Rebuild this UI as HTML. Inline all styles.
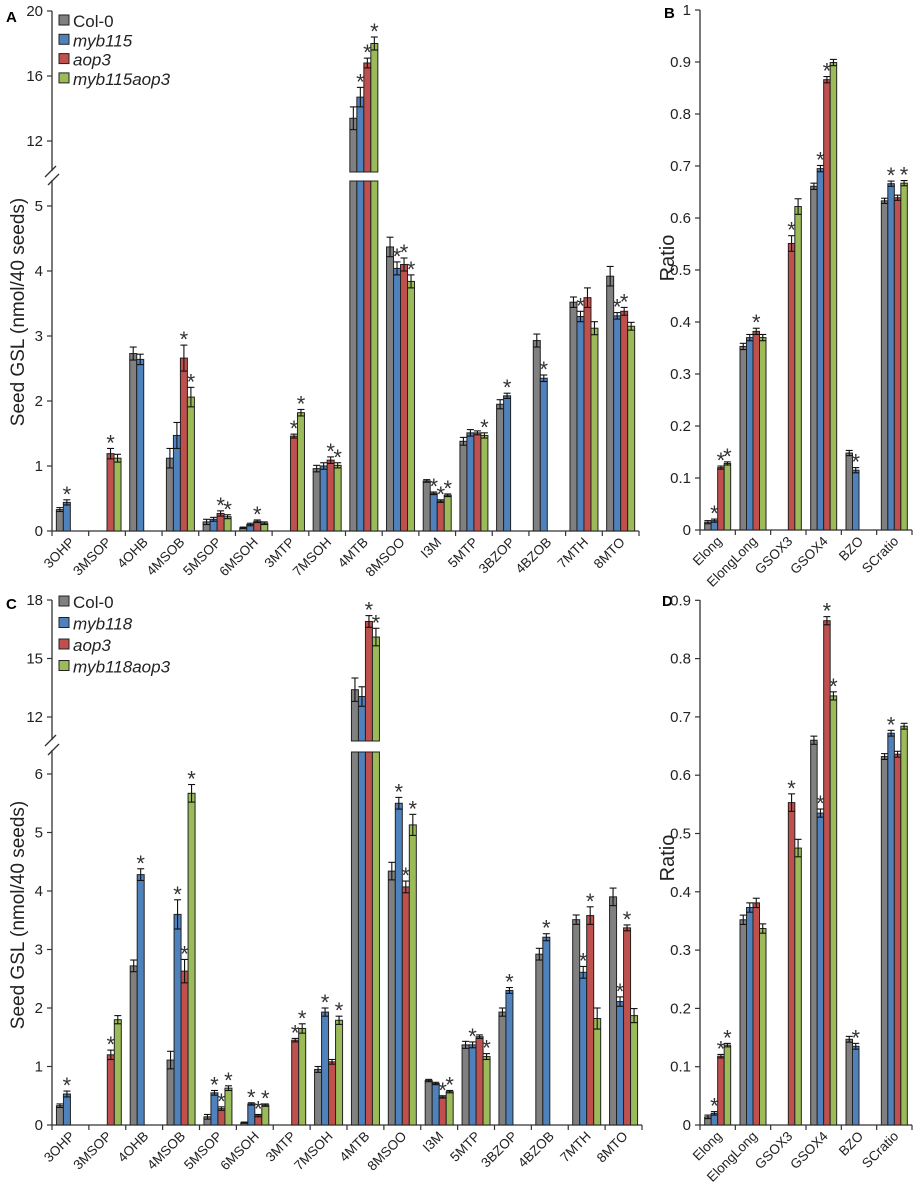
<!DOCTYPE html>
<html><head><meta charset="utf-8"><style>
html,body{margin:0;padding:0;background:#fff;}
svg{display:block;font-family:"Liberation Sans",Arial,sans-serif;}
</style></head>
<body>
<svg id="fig" width="918" height="1190" viewBox="0 0 918 1190" xmlns="http://www.w3.org/2000/svg">
<rect x="0" y="0" width="918" height="1190" fill="#fff"/>
<text x="6" y="22" font-size="15" font-weight="bold">A</text>
<text x="664" y="18" font-size="15" font-weight="bold">B</text>
<text x="6" y="609" font-size="15" font-weight="bold">C</text>
<text x="662" y="606" font-size="15" font-weight="bold">D</text>
<text transform="translate(24,312) rotate(-90)" text-anchor="middle" font-size="19" fill="#222">Seed GSL (nmol/40 seeds)</text>
<text transform="translate(24,915) rotate(-90)" text-anchor="middle" font-size="19" fill="#222">Seed GSL (nmol/40 seeds)</text>
<text transform="translate(674,258) rotate(-90)" text-anchor="middle" font-size="20" fill="#222">Ratio</text>
<text transform="translate(674,858) rotate(-90)" text-anchor="middle" font-size="20" fill="#222">Ratio</text>
</svg>
<script>
// ---------- data ----------
const gslCats = ["3OHP","3MSOP","4OHB","4MSOB","5MSOP","6MSOH","3MTP","7MSOH","4MTB","8MSOO","I3M","5MTP","3BZOP","4BZOB","7MTH","8MTO"];
const ratioCats = ["Elong","ElongLong","GSOX3","GSOX4","BZO","SCratio"];
const seriesColors = ["#808080","#4f81bd","#c0504d","#9bbb59"];
const legendA = ["Col-0","myb115","aop3","myb115aop3"];
const legendC = ["Col-0","myb118","aop3","myb118aop3"];

// Panel A (myb115)
const aCol0 = [0.33,null,2.73,1.12,0.14,0.05,null,0.96,13.4,4.37,0.77,1.38,1.95,2.93,3.52,3.92];
const aMyb  = [0.44,null,2.64,1.47,0.18,0.10,null,1.00,14.7,4.04,0.58,1.51,2.08,2.35,3.30,3.31];
const aAop  = [null,1.19,null,2.66,0.27,0.15,1.46,1.09,16.8,4.10,0.46,1.51,null,null,3.59,3.38];
const aDbl  = [null,1.12,null,2.06,0.22,0.12,1.82,1.01,18.0,3.84,0.55,1.47,null,null,3.12,3.15];
const aCol0Err = [0.03,0,0.1,0.15,0.04,0.01,0,0.05,0.7,0.15,0.02,0.06,0.07,0.1,0.08,0.15];
const aMybErr  = [0.04,0,0.08,0.2,0.03,0.02,0,0.05,0.6,0.1,0.02,0.05,0.04,0.05,0.08,0.05];
const aAopErr  = [0,0.08,0,0.2,0.04,0.02,0.03,0.05,0.3,0.1,0.02,0.03,0,0,0.15,0.06];
const aDblErr  = [0,0.06,0,0.15,0.03,0.02,0.05,0.04,0.4,0.1,0.02,0.04,0,0,0.1,0.06];
const aStars = ["0100","0010","0000","0011","0011","0010","0011","0011","0111","0111","0111","0001","0100","0100","0100","0110"];

// Panel B (myb115 ratios)
const bCol0 = [0.015,0.353,null,0.661,0.148,0.633];
const bMyb  = [0.018,0.370,null,0.695,0.115,0.666];
const bAop  = [0.120,0.382,0.551,0.866,null,0.639];
const bDbl  = [0.128,0.370,0.622,0.899,null,0.667];
const bErr  = [0.003,0.006,0.015,0.006,0.005,0.005];
const bStars = ["0111","0010","0010","0110","0100","0101"];

// Panel C (myb118)
const cCol0 = [0.33,null,2.72,1.11,0.14,0.04,null,0.95,13.4,4.34,0.76,1.37,1.93,2.92,3.51,3.90];
const cMyb  = [0.53,null,4.28,3.60,0.55,0.36,null,1.93,13.05,5.50,0.71,1.37,2.30,3.21,2.61,2.11];
const cAop  = [null,1.20,null,2.63,0.28,0.16,1.45,1.08,16.9,4.07,0.48,1.51,null,null,3.58,3.37];
const cDbl  = [null,1.80,null,5.67,0.63,0.34,1.65,1.79,16.1,5.13,0.57,1.17,null,null,1.82,1.87];
const cCol0Err = [0.03,0,0.1,0.15,0.04,0.01,0,0.05,0.6,0.15,0.02,0.06,0.07,0.1,0.08,0.15];
const cMybErr  = [0.05,0,0.1,0.25,0.04,0.02,0,0.07,0.5,0.1,0.02,0.05,0.05,0.06,0.1,0.08];
const cAopErr  = [0,0.08,0,0.2,0.03,0.02,0.03,0.04,0.3,0.1,0.02,0.03,0,0,0.15,0.05];
const cDblErr  = [0,0.07,0,0.15,0.04,0.02,0.08,0.07,0.45,0.18,0.02,0.05,0,0,0.18,0.12];
const cStars = ["0100","0010","0100","0111","0111","0111","0011","0101","0011","0111","0011","0101","0100","0100","0110","0110"];

// Panel D (myb118 ratios)
const dCol0 = [0.014,0.352,null,0.660,0.147,0.632];
const dMyb  = [0.020,0.373,null,0.535,0.135,0.672];
const dAop  = [0.118,0.381,0.553,0.865,null,0.636];
const dDbl  = [0.137,0.337,0.475,0.736,null,0.684];
const dErr  = [0.003,0.008,0.015,0.007,0.005,0.005];
const dStars = ["0111","0000","0010","0111","0100","0100"];

const aTicksLow = [0,1,2,3,4,5];
const aTicksUp = [12,16,20];
const cTicksLow = [0,1,2,3,4,5,6];
const cTicksUp = [12,15,18];
const bTicks = [0,0.1,0.2,0.3,0.4,0.5,0.6,0.7,0.8,0.9,1];
const dTicks = [0,0.1,0.2,0.3,0.4,0.5,0.6,0.7,0.8,0.9];

// ---------- drawing ----------
const NS = "http://www.w3.org/2000/svg";
const svg = document.getElementById("fig");
function mk(tag, attrs, parent) {
  const e = document.createElementNS(NS, tag);
  for (const k in attrs) e.setAttribute(k, attrs[k]);
  (parent || svg).appendChild(e);
  return e;
}

function drawPanel(p) {
  const g = mk("g", {});
  
  
  const n = p.cats.length;
  const cw = (p.x1 - p.x0) / n;
  const bw = p.bw;
  const brk = p.brk;
  function yv(v) {
    if (brk && v > brk.lowMax) return brk.upRefY - (v - brk.upRef) * brk.upScale;
    return p.base - v * p.scale;
  }
  const axis = mk("g", {}, g);
  
  
  if (brk) {
    mk("line", {x1:p.x0, y1:p.top, x2:p.x0, y2:brk.gapTop, stroke:"#333", "stroke-width":1.3}, axis);
    mk("line", {x1:p.x0, y1:brk.gapBot, x2:p.x0, y2:p.base, stroke:"#333", "stroke-width":1.3}, axis);
    mk("line", {x1:p.x0-7, y1:brk.gapTop+6, x2:p.x0+4, y2:brk.gapTop-5, stroke:"#333", "stroke-width":1.3}, axis);
    mk("line", {x1:p.x0-4, y1:brk.gapBot+5, x2:p.x0+7, y2:brk.gapBot-6, stroke:"#333", "stroke-width":1.3}, axis);
  } else {
    mk("line", {x1:p.x0, y1:p.top, x2:p.x0, y2:p.base, stroke:"#333", "stroke-width":1.3}, axis);
  }
  const allTicks = p.ticks.concat(p.upTicks || []);
  allTicks.forEach(t => {
    const y = yv(t);
    mk("line", {x1:p.x0-5, y1:y, x2:p.x0, y2:y, stroke:"#333", "stroke-width":1.2}, axis);
    const tx = mk("text", {x:p.x0-9, y:y+5, "text-anchor":"end", "font-size":15, fill:"#222"}, axis);
    
    
    tx.textContent = String(t);
  });
  const xa = mk("g", {}, g);
  
  
  mk("line", {x1:p.x0, y1:p.base, x2:p.x1, y2:p.base, stroke:"#333", "stroke-width":1.3}, xa);
  for (let i = 0; i <= n; i++) {
    const x = p.x0 + i * cw;
    mk("line", {x1:x, y1:p.base, x2:x, y2:p.base+5, stroke:"#333", "stroke-width":1.2}, xa);
  }
  p.cats.forEach((c, i) => {
    const cx = p.x0 + (i + 0.5) * cw;
    const t = mk("text", {transform:`translate(${cx+5},${p.base+12}) rotate(-45)`, "text-anchor":"end", "font-size":p.xfs, fill:"#222"}, xa);
    
    
    t.textContent = c;
  });
  p.series.forEach((vals, s) => {
    vals.forEach((v, i) => {
      if (v === null) return;
      const cx = p.x0 + (i + 0.5) * cw;
      const x = cx - 2 * bw + s * bw;
      const yt = yv(v);
      const col = seriesColors[s];
      if (brk && v > brk.lowMax) {
        const r1 = mk("rect", {x:x, y:brk.barLowTop, width:bw, height:p.base - brk.barLowTop, fill:col, stroke:"#222", "stroke-width":1}, g);
        
        
        const r2 = mk("rect", {x:x, y:yt, width:bw, height:brk.barUpBot - yt, fill:col, stroke:"#222", "stroke-width":1}, g);
        
        
      } else {
        const r = mk("rect", {x:x, y:yt, width:bw, height:p.base - yt, fill:col, stroke:"#222", "stroke-width":1}, g);
        
        
      }
      const e = p.errs[s][i];
      const yHi = yv(v + e), yLo = yv(Math.max(v - e, 0));
      const ex = x + bw / 2;
      const eg = mk("g", {stroke:"#111", "stroke-width":1.1}, g);
      
      
      mk("line", {x1:ex, y1:yHi, x2:ex, y2:yLo}, eg);
      mk("line", {x1:ex-3.5, y1:yHi, x2:ex+3.5, y2:yHi}, eg);
      mk("line", {x1:ex-3.5, y1:yLo, x2:ex+3.5, y2:yLo}, eg);
      if (p.stars[i][s] === "1") {
        const st = mk("text", {x:ex, y:yHi + 2, "text-anchor":"middle", "font-size":22, fill:"#333"}, g);
        
        
        st.textContent = "*";
      }
    });
  });
  if (p.legend) {
    p.legend.forEach((lab, s) => {
      const y = p.legY + s * p.legDy;
      const lg = mk("g", {}, g);
      
      
      mk("rect", {x:p.x0+7, y:y-12, width:10, height:10, fill:seriesColors[s], stroke:"#222", "stroke-width":1}, lg);
      const t = mk("text", {x:p.x0+21, y:y, "font-size":17, fill:"#222", "font-style": s === 0 ? "normal" : "italic"}, lg);
      t.textContent = lab;
    });
  }
}

drawPanel({name:"panel-a-chart", cats:gslCats, x0:52, x1:639, base:531, scale:65, top:11, bw:7, xfs:13.5,
  ticks:aTicksLow, upTicks:aTicksUp,
  brk:{lowMax:5.4, upRef:12, upRefY:141, upScale:16.25, gapTop:171, gapBot:180, barLowTop:181, barUpBot:172},
  series:[aCol0,aMyb,aAop,aDbl], errs:[aCol0Err,aMybErr,aAopErr,aDblErr], stars:aStars,
  legend:legendA, legY:27, legDy:19.3});
drawPanel({name:"panel-b-chart", cats:ratioCats, x0:700, x1:912, base:530, scale:520, top:10, bw:6.5, xfs:13.5,
  ticks:bTicks, brk:null,
  series:[bCol0,bMyb,bAop,bDbl], errs:[bErr,bErr,bErr,bErr], stars:bStars});
drawPanel({name:"panel-c-chart", cats:gslCats, x0:52, x1:642, base:1125, scale:58.5, top:600, bw:7, xfs:13.5,
  ticks:cTicksLow, upTicks:cTicksUp,
  brk:{lowMax:6.3, upRef:12, upRefY:717, upScale:19.5, gapTop:740, gapBot:750, barLowTop:752, barUpBot:741},
  series:[cCol0,cMyb,cAop,cDbl], errs:[cCol0Err,cMybErr,cAopErr,cDblErr], stars:cStars,
  legend:legendC, legY:608, legDy:21.5});
drawPanel({name:"panel-d-chart", cats:ratioCats, x0:700, x1:912, base:1125, scale:583, top:600, bw:6.5, xfs:13.5,
  ticks:dTicks, brk:null,
  series:[dCol0,dMyb,dAop,dDbl], errs:[dErr,dErr,dErr,dErr], stars:dStars});
</script>
</body></html>
